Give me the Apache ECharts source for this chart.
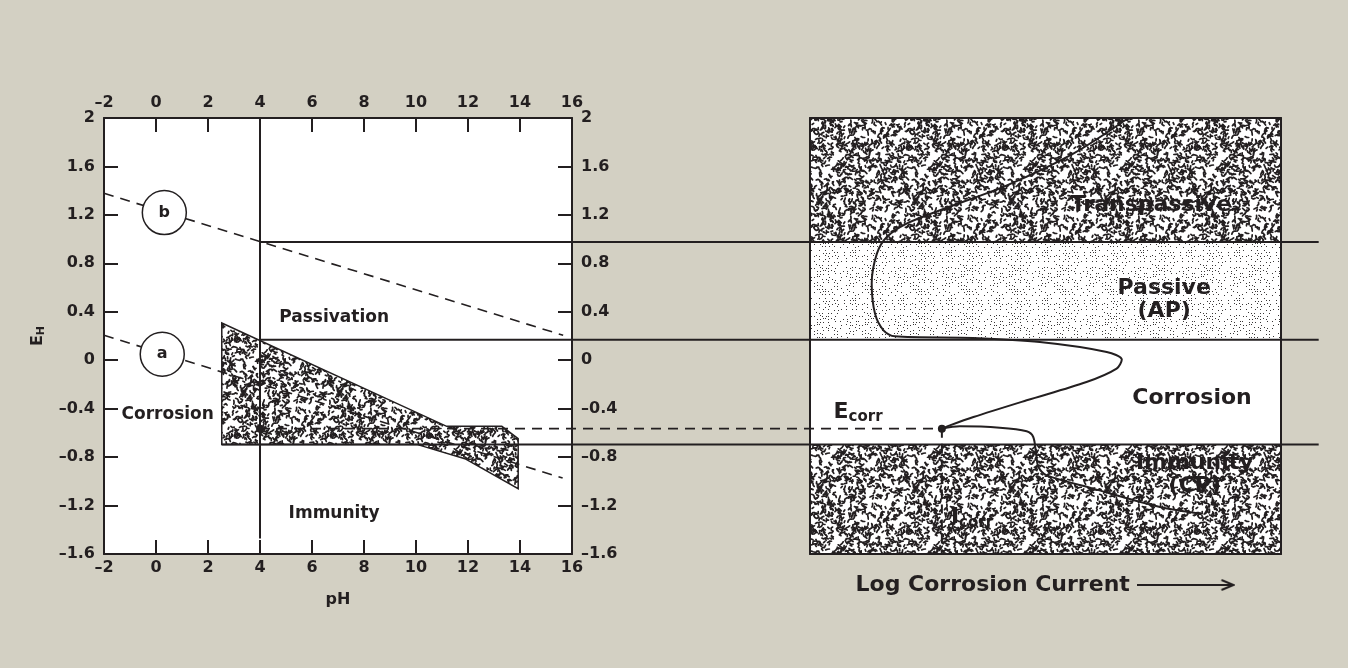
<!DOCTYPE html>
<html><head><meta charset="utf-8">
<script src="https://cdn.jsdelivr.net/npm/echarts@6/dist/echarts.min.js"></script>
<style>html,body{margin:0;padding:0;background:#d3d0c3;} #c{width:1348px;height:668px;}</style>
</head><body><div id="c"></div>
<script>
// ---------------- data ----------------
const pHTicks = [-2, 0, 2, 4, 6, 8, 10, 12, 14, 16];
const eTicks = [-1.6, -1.2, -0.8, -0.4, 0, 0.4, 0.8, 1.2, 1.6, 2];
// Pourbaix diagram (pH, E_H)
const lineB = [[-2, 1.378], [15.66, 0.206]];
const lineA = [[-2, 0.206], [15.64, -0.973]];
const corrosionZone = [[2.53, 0.307], [11.18, -0.546], [13.30, -0.546], [13.93, -0.648], [13.93, -1.060], [11.88, -0.813], [10.03, -0.695], [2.53, -0.695]];
const pH4Line = [[4, 2], [4, -1.471]];
const eTranspassive = 0.976;
const ePassive = 0.170;
const eImmunity = -0.695;
const eCorr = -0.565;
const iCorr = 2.80;
const circleMarks = [{ name: 'b', value: [0.32, 1.219] }, { name: 'a', value: [0.24, 0.049] }];
const leftLabels = [
  { name: 'Passivation', value: [6.85, 0.352] },
  { name: 'Corrosion', value: [0.45, -0.452] },
  { name: 'Immunity', value: [6.85, -1.264] }
];
// boundary lines crossing both panels: [start pH, E, dashed?, ends at Ecorr?]
const crossLines = [[4, eTranspassive, 0, 0], [4, ePassive, 0, 0], [2.53, eImmunity, 0, 0], [4, eCorr, 1, 1]];
// polarization curve (log current, arbitrary 0-10 ; E_H)
const anodic = [[6.76, 2.0], [5.59, 1.706], [4.18, 1.444], [2.76, 1.238], [2.05, 1.128], [1.63, 1.017], [1.42, 0.880], [1.31, 0.633], [1.38, 0.385], [1.56, 0.247], [1.80, 0.197], [3.46, 0.183], [4.88, 0.150], [6.30, 0.068], [6.62, 0.005], [6.51, -0.069], [5.87, -0.180], [4.60, -0.331], [3.47, -0.469], [2.97, -0.538], [2.80, -0.565]];
const cathodic = [[2.80, -0.565], [3.18, -0.546], [4.03, -0.557], [4.60, -0.587], [4.74, -0.634], [4.80, -0.771], [4.85, -0.882], [5.03, -0.951], [6.01, -1.060], [7.43, -1.212], [8.30, -1.267]];
const bands = [[eTranspassive, 2, 0], [ePassive, eTranspassive, 1], [-1.6, eImmunity, 0]];
const rightLabels = [
  { name: 'Transpassive', value: [7.24, 1.279] },
  { name: 'Passive\n(AP)', value: [7.52, 0.499] },
  { name: 'Corrosion', value: [8.11, -0.313] },
  { name: 'Immunity\n(CP)', value: [8.17, -0.942] }
];
const subLabels = [
  { name: 'E', sub: 'corr', value: [1.02, -0.43] },
  { name: 'I', sub: 'corr', value: [3.44, -1.30] }
];
const lineEndU = 10.8; // where boundary lines stop, right-axis units

// ---------------- styling helpers ----------------
const INK = '#231f20';
const FONT = '"DejaVu Sans", sans-serif';

function lcg(seed) { let s = seed; return () => (s = (s * 1664525 + 1013904223) % 4294967296) / 4294967296; }
function denseTile() {
  const n = 96, c = document.createElement('canvas'); c.width = c.height = n;
  const g = c.getContext('2d'); g.fillStyle = '#fff'; g.fillRect(0, 0, n, n);
  g.strokeStyle = INK; g.lineWidth = 1.7; g.lineCap = 'round'; g.lineJoin = 'round';
  const r = lcg(12345);
  for (let i = 0; i < 640; i++) {
    let x = r() * n, y = r() * n, a = r() * 6.283;
    const pts = [[x, y]];
    const segs = 1 + Math.floor(r() * 3);
    for (let k = 0; k < segs; k++) { a += (r() - 0.5) * 3; x += Math.cos(a) * 1.9; y += Math.sin(a) * 1.9; pts.push([x, y]); }
    for (const dx of [-n, 0, n]) for (const dy of [-n, 0, n]) {
      g.beginPath(); g.moveTo(pts[0][0] + dx, pts[0][1] + dy);
      for (let k = 1; k < pts.length; k++) g.lineTo(pts[k][0] + dx, pts[k][1] + dy);
      g.stroke();
    }
  }
  return c;
}
function fineTile() {
  const n = 48, c = document.createElement('canvas'); c.width = c.height = n;
  const g = c.getContext('2d'); g.fillStyle = '#fff'; g.fillRect(0, 0, n, n);
  g.fillStyle = '#3a3838';
  const r = lcg(777);
  for (let y = 0; y < n; y += 3) for (let x = 0; x < n; x += 3) {
    if (r() < 0.55) g.fillRect(x + Math.floor(r() * 2), y + Math.floor(r() * 2), 1, 1);
  }
  return c;
}
function arrowImg() {
  const c = document.createElement('canvas'); c.width = 98; c.height = 14;
  const g = c.getContext('2d'); g.strokeStyle = INK; g.lineWidth = 2;
  g.beginPath(); g.moveTo(0, 7); g.lineTo(96, 7); g.stroke();
  g.beginPath(); g.moveTo(84, 2); g.lineTo(96, 7); g.lineTo(84, 12); g.stroke();
  return c;
}
const DENSE = { image: denseTile(), repeat: 'repeat' };
const FINE = { image: fineTile(), repeat: 'repeat' };

const fmt = v => { const r = Math.round(v * 10) / 10; return (r === 0 ? '0' : String(r)).replace('-', '\u2013'); };
const lbl = { color: INK, fontFamily: FONT, fontWeight: 'bold', fontSize: 16 };
const axisLineS = { show: true, onZero: false, lineStyle: { color: INK, width: 2 } };
const tickS = { show: true, inside: true, length: 14, lineStyle: { color: INK, width: 2 } };

const xMin = pHTicks[0], xMax = pHTicks[pHTicks.length - 1], xInt = pHTicks[1] - pHTicks[0];
const yMin = eTicks[0], yMax = eTicks[eTicks.length - 1], yInt = 0.4;

const option = {
  animation: false,
  backgroundColor: '#d3d0c3',
  grid: [
    { left: 104, top: 118, width: 468, height: 436, show: true, backgroundColor: '#fff', borderWidth: 0 },
    { left: 810, top: 118, width: 471, height: 436, show: true, backgroundColor: '#fff', borderWidth: 0 }
  ],
  xAxis: [
    { type: 'value', gridIndex: 0, position: 'bottom', min: xMin, max: xMax, interval: xInt, axisLine: axisLineS, axisTick: tickS,
      axisLabel: Object.assign({}, lbl, { margin: 6, formatter: fmt }), splitLine: { show: false },
      name: 'pH', nameLocation: 'middle', nameGap: 38, nameTextStyle: Object.assign({}, lbl), z: 6 },
    { type: 'value', gridIndex: 0, position: 'top', min: xMin, max: xMax, interval: xInt, axisLine: axisLineS, axisTick: tickS,
      axisLabel: Object.assign({}, lbl, { margin: 7, formatter: fmt }), splitLine: { show: false }, z: 6 },
    { type: 'value', gridIndex: 1, position: 'bottom', min: 0, max: 10, axisLine: axisLineS, axisTick: { show: false },
      axisLabel: { show: false }, splitLine: { show: false }, z: 10,
      name: 'Log Corrosion Current {arr|}', nameLocation: 'middle', nameGap: 20,
      nameTextStyle: { color: INK, fontFamily: FONT, fontWeight: 'bold', fontSize: 22,
        rich: { arr: { width: 98, height: 14, backgroundColor: { image: arrowImg() } } } } },
    { type: 'value', gridIndex: 1, position: 'top', min: 0, max: 10, axisLine: axisLineS, axisTick: { show: false },
      axisLabel: { show: false }, splitLine: { show: false }, z: 10 }
  ],
  yAxis: [
    { type: 'value', gridIndex: 0, position: 'left', min: yMin, max: yMax, interval: yInt, axisLine: axisLineS, axisTick: tickS,
      axisLabel: Object.assign({}, lbl, { margin: 9, formatter: fmt }), splitLine: { show: false },
      name: 'E{s|H}', nameLocation: 'middle', nameGap: 57, nameRotate: 90,
      nameTextStyle: Object.assign({}, lbl, { rich: { s: { color: INK, fontFamily: FONT, fontWeight: 'bold', fontSize: 11, padding: [7, 0, 0, 0] } } }), z: 6 },
    { type: 'value', gridIndex: 0, position: 'right', min: yMin, max: yMax, interval: yInt, axisLine: axisLineS, axisTick: tickS,
      axisLabel: Object.assign({}, lbl, { margin: 9, formatter: fmt }), splitLine: { show: false }, z: 6 },
    { type: 'value', gridIndex: 1, position: 'left', min: yMin, max: yMax, axisLine: axisLineS, axisTick: { show: false },
      axisLabel: { show: false }, splitLine: { show: false }, z: 10 },
    { type: 'value', gridIndex: 1, position: 'right', min: yMin, max: yMax, axisLine: axisLineS, axisTick: { show: false },
      axisLabel: { show: false }, splitLine: { show: false }, z: 10 }
  ],
  series: []
};

function seg(data, opts) {
  return Object.assign({ type: 'line', data: data, symbol: 'none', silent: true, xAxisIndex: 0, yAxisIndex: 0,
    lineStyle: { color: INK, width: 2 }, z: 3 }, opts || {});
}
const dashS = { color: INK, width: 1.6, type: [10, 7] };
const txt = (size) => ({ show: true, position: 'inside', formatter: p => p.name, color: INK, fontFamily: FONT, fontWeight: 'bold', fontSize: size });
const hidden = { color: 'rgba(0,0,0,0)', opacity: 1 };

function buildSeries(endPx) {
  const s = [];
  // corrosion zone polygon (left)
  s.push({ type: 'custom', xAxisIndex: 0, yAxisIndex: 0, silent: true, z: 2, data: [0],
    renderItem: (p, api) => ({ type: 'polygon', shape: { points: corrosionZone.map(q => api.coord(q)) },
      style: { fill: DENSE, stroke: INK, lineWidth: 1.5 } }) });
  s.push(seg(lineB, { lineStyle: dashS }));
  s.push(seg(lineA, { lineStyle: dashS }));
  s.push(seg(pH4Line));
  s.push({ type: 'scatter', xAxisIndex: 0, yAxisIndex: 0, silent: true, z: 5, data: circleMarks, symbol: 'circle', symbolSize: 44,
    itemStyle: { color: '#fff', borderColor: INK, borderWidth: 1.5, opacity: 1 }, label: txt(16) });
  s.push({ type: 'scatter', xAxisIndex: 0, yAxisIndex: 0, silent: true, z: 5, data: [[4, eCorr]], symbol: 'circle', symbolSize: 8,
    itemStyle: { color: INK, opacity: 1 } });
  s.push({ type: 'scatter', xAxisIndex: 0, yAxisIndex: 0, silent: true, z: 6, data: leftLabels, symbolSize: 1,
    itemStyle: hidden, label: txt(17) });
  // right bands
  s.push({ type: 'custom', xAxisIndex: 2, yAxisIndex: 2, silent: true, z: 1, data: bands,
    renderItem: (p, api) => {
      const a = api.coord([0, api.value(1)]), b = api.coord([10, api.value(0)]);
      return { type: 'rect', shape: { x: a[0], y: a[1], width: b[0] - a[0], height: b[1] - a[1] },
        style: { fill: api.value(2) === 0 ? DENSE : FINE } };
    } });
  // boundary lines crossing both panels (end pixel taken from the right panel's axis)
  if (endPx) {
    s.push({ type: 'custom', xAxisIndex: 0, yAxisIndex: 0, silent: true, clip: false, z: 3, data: crossLines,
      renderItem: (p, api) => {
        const a = api.coord([api.value(0), api.value(1)]);
        const dashed = api.value(2) === 1;
        const x2 = api.value(3) === 1 ? endPx.ecorr : endPx.end;
        return { type: 'line', shape: { x1: a[0], y1: a[1], x2: x2, y2: a[1] },
          style: { stroke: INK, lineWidth: dashed ? 1.6 : 2, lineDash: dashed ? [10, 7] : null } };
      } });
  }
  // polarization curve
  s.push(seg(anodic, { xAxisIndex: 2, yAxisIndex: 2, smooth: 0.3, z: 4 }));
  s.push(seg(cathodic, { xAxisIndex: 2, yAxisIndex: 2, smooth: 0.3, z: 4 }));
  s.push(seg([[iCorr, eCorr], [iCorr, eImmunity]], { xAxisIndex: 2, yAxisIndex: 2, z: 4 }));
  s.push(seg([[iCorr, eImmunity], [iCorr, yMin]], { xAxisIndex: 2, yAxisIndex: 2, z: 4, lineStyle: { color: INK, width: 2, type: [9, 6] } }));
  s.push({ type: 'scatter', xAxisIndex: 2, yAxisIndex: 2, silent: true, z: 5, data: [[iCorr, eCorr]], symbolSize: 8, itemStyle: { color: INK, opacity: 1 } });
  s.push({ type: 'scatter', xAxisIndex: 2, yAxisIndex: 2, silent: true, z: 6, data: rightLabels, symbolSize: 1,
    itemStyle: hidden, label: Object.assign(txt(22), { lineHeight: 23, align: 'center' }) });
  s.push({ type: 'scatter', xAxisIndex: 2, yAxisIndex: 2, silent: true, z: 6, data: subLabels, symbolSize: 1,
    itemStyle: hidden,
    label: { show: true, position: 'inside', formatter: p => '{m|' + p.data.name + '}{s|' + p.data.sub + '}',
      rich: { m: { color: INK, fontFamily: FONT, fontWeight: 'bold', fontSize: 22 },
              s: { color: INK, fontFamily: FONT, fontWeight: 'bold', fontSize: 15, padding: [10, 0, 0, 0] } } } });
  return s;
}

const chart = echarts.init(document.getElementById('c'), null, { renderer: 'canvas' });
option.series = buildSeries(null);
chart.setOption(option);
const px = (axis, v) => chart.convertToPixel({ xAxisIndex: axis }, v);
const r0 = px(2, 0), r10 = px(2, 10);
const endPx = { end: r0 + (r10 - r0) * lineEndU / 10, ecorr: px(2, iCorr) };
chart.setOption({ series: buildSeries(endPx) });
</script></body></html>
